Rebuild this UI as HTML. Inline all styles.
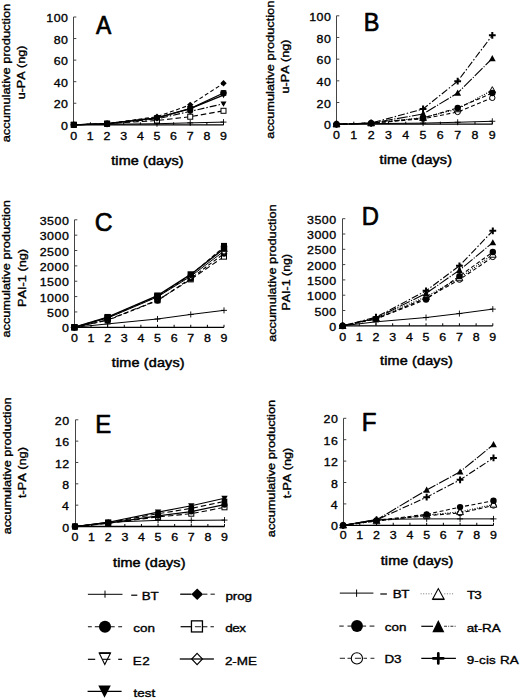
<!DOCTYPE html><html><head><meta charset="utf-8"><style>html,body{margin:0;padding:0;background:#fff}svg{display:block}text{font-family:"Liberation Sans",sans-serif;font-kerning:none}</style></head><body>
<svg width="520" height="699" viewBox="0 0 520 699">
<rect width="520" height="699" fill="#fff"/>
<text transform="translate(10.00,142.37) rotate(-90) scale(1.1487,1)" font-size="11.20" font-weight="normal" stroke="#000" stroke-width="0.35" stroke-linejoin="round">accumulative production</text>
<text transform="translate(25.00,99.34) rotate(-90) scale(1.1235,1)" font-size="11.20" font-weight="normal" stroke="#000" stroke-width="0.35" stroke-linejoin="round">u-PA (ng)</text>
<text transform="translate(274.00,138.67) rotate(-90) scale(1.1436,1)" font-size="11.20" font-weight="normal" stroke="#000" stroke-width="0.35" stroke-linejoin="round">accumulative production</text>
<text transform="translate(289.00,93.44) rotate(-90) scale(1.1235,1)" font-size="11.20" font-weight="normal" stroke="#000" stroke-width="0.35" stroke-linejoin="round">u-PA (ng)</text>
<text transform="translate(10.00,337.57) rotate(-90) scale(1.1386,1)" font-size="11.20" font-weight="normal" stroke="#000" stroke-width="0.35" stroke-linejoin="round">accumulative production</text>
<text transform="translate(26.00,306.97) rotate(-90) scale(1.1381,1)" font-size="11.20" font-weight="normal" stroke="#000" stroke-width="0.35" stroke-linejoin="round">PAI-1 (ng)</text>
<text transform="translate(276.00,341.87) rotate(-90) scale(1.1386,1)" font-size="11.20" font-weight="normal" stroke="#000" stroke-width="0.35" stroke-linejoin="round">accumulative production</text>
<text transform="translate(290.00,310.54) rotate(-90) scale(1.1097,1)" font-size="11.20" font-weight="normal" stroke="#000" stroke-width="0.35" stroke-linejoin="round">PAI-1 (ng)</text>
<text transform="translate(11.00,534.36) rotate(-90) scale(1.1336,1)" font-size="11.20" font-weight="normal" stroke="#000" stroke-width="0.35" stroke-linejoin="round">accumulative production</text>
<text transform="translate(26.00,498.12) rotate(-90) scale(1.1389,1)" font-size="11.20" font-weight="normal" stroke="#000" stroke-width="0.35" stroke-linejoin="round">t-PA (ng)</text>
<text transform="translate(275.00,537.17) rotate(-90) scale(1.1378,1)" font-size="11.20" font-weight="normal" stroke="#000" stroke-width="0.35" stroke-linejoin="round">accumulative production</text>
<text transform="translate(291.00,498.32) rotate(-90) scale(1.1275,1)" font-size="11.20" font-weight="normal" stroke="#000" stroke-width="0.35" stroke-linejoin="round">t-PA (ng)</text>
<text transform="translate(111.21,165.40) scale(1.2000,1)" letter-spacing="0.104" font-size="12.00" font-weight="normal" stroke="#000" stroke-width="0.45" stroke-linejoin="round">time (days)</text>
<text transform="translate(379.51,164.40) scale(1.2000,1)" letter-spacing="0.104" font-size="12.00" font-weight="normal" stroke="#000" stroke-width="0.45" stroke-linejoin="round">time (days)</text>
<text transform="translate(111.81,366.60) scale(1.2000,1)" letter-spacing="0.129" font-size="12.00" font-weight="normal" stroke="#000" stroke-width="0.45" stroke-linejoin="round">time (days)</text>
<text transform="translate(380.01,365.40) scale(1.2000,1)" letter-spacing="0.137" font-size="12.00" font-weight="normal" stroke="#000" stroke-width="0.45" stroke-linejoin="round">time (days)</text>
<text transform="translate(113.01,566.60) scale(1.2000,1)" letter-spacing="0.104" font-size="12.00" font-weight="normal" stroke="#000" stroke-width="0.45" stroke-linejoin="round">time (days)</text>
<text transform="translate(380.71,564.90) scale(1.2000,1)" letter-spacing="0.121" font-size="12.00" font-weight="normal" stroke="#000" stroke-width="0.45" stroke-linejoin="round">time (days)</text>
<text transform="translate(96.01,33.95) scale(0.8811,1)" font-size="26.02" font-weight="normal" stroke="#000" stroke-width="0.70" stroke-linejoin="round">A</text>
<text transform="translate(363.72,30.55) scale(0.9181,1)" font-size="25.58" font-weight="normal" stroke="#000" stroke-width="0.70" stroke-linejoin="round">B</text>
<text transform="translate(94.80,231.40) scale(0.9530,1)" font-size="25.85" font-weight="normal" stroke="#000" stroke-width="0.70" stroke-linejoin="round">C</text>
<text transform="translate(361.80,225.15) scale(0.9306,1)" font-size="25.58" font-weight="normal" stroke="#000" stroke-width="0.70" stroke-linejoin="round">D</text>
<text transform="translate(95.18,432.85) scale(0.9168,1)" font-size="26.16" font-weight="normal" stroke="#000" stroke-width="0.70" stroke-linejoin="round">E</text>
<text transform="translate(361.77,431.25) scale(0.9491,1)" font-size="25.44" font-weight="normal" stroke="#000" stroke-width="0.70" stroke-linejoin="round">F</text>
<path d="M73.50,17.00V124.80" stroke="#444" stroke-width="1"/>
<path d="M73.50,124.80H76.30" stroke="#444" stroke-width="1"/>
<text transform="translate(61.12,129.87) scale(1.1500,1)" letter-spacing="0.428" font-size="10.80" font-weight="normal" stroke="#000" stroke-width="0.32" stroke-linejoin="round">0</text>
<path d="M73.50,103.24H76.30" stroke="#444" stroke-width="1"/>
<text transform="translate(53.72,108.31) scale(1.1500,1)" letter-spacing="0.428" font-size="10.80" font-weight="normal" stroke="#000" stroke-width="0.32" stroke-linejoin="round">20</text>
<path d="M73.50,81.68H76.30" stroke="#444" stroke-width="1"/>
<text transform="translate(53.72,86.75) scale(1.1500,1)" letter-spacing="0.428" font-size="10.80" font-weight="normal" stroke="#000" stroke-width="0.32" stroke-linejoin="round">40</text>
<path d="M73.50,60.12H76.30" stroke="#444" stroke-width="1"/>
<text transform="translate(53.72,65.19) scale(1.1500,1)" letter-spacing="0.428" font-size="10.80" font-weight="normal" stroke="#000" stroke-width="0.32" stroke-linejoin="round">60</text>
<path d="M73.50,38.56H76.30" stroke="#444" stroke-width="1"/>
<text transform="translate(53.72,43.63) scale(1.1500,1)" letter-spacing="0.428" font-size="10.80" font-weight="normal" stroke="#000" stroke-width="0.32" stroke-linejoin="round">80</text>
<path d="M73.50,17.00H76.30" stroke="#444" stroke-width="1"/>
<text transform="translate(46.32,22.07) scale(1.1500,1)" letter-spacing="0.428" font-size="10.80" font-weight="normal" stroke="#000" stroke-width="0.32" stroke-linejoin="round">100</text>
<path d="M73.80,124.80H223.50" stroke="#000" stroke-width="1.3"/>
<path d="M73.80,124.80V122.30" stroke="#000" stroke-width="1"/>
<text transform="translate(70.35,139.90) scale(1.1500,1)" font-size="10.80" font-weight="normal" stroke="#000" stroke-width="0.32" stroke-linejoin="round">0</text>
<path d="M90.43,124.80V122.30" stroke="#000" stroke-width="1"/>
<text transform="translate(86.81,139.90) scale(1.1500,1)" font-size="10.80" font-weight="normal" stroke="#000" stroke-width="0.32" stroke-linejoin="round">1</text>
<path d="M107.07,124.80V122.30" stroke="#000" stroke-width="1"/>
<text transform="translate(103.61,139.90) scale(1.1500,1)" font-size="10.80" font-weight="normal" stroke="#000" stroke-width="0.32" stroke-linejoin="round">2</text>
<path d="M123.70,124.80V122.30" stroke="#000" stroke-width="1"/>
<text transform="translate(120.28,139.90) scale(1.1500,1)" font-size="10.80" font-weight="normal" stroke="#000" stroke-width="0.32" stroke-linejoin="round">3</text>
<path d="M140.33,124.80V122.30" stroke="#000" stroke-width="1"/>
<text transform="translate(136.92,139.90) scale(1.1500,1)" font-size="10.80" font-weight="normal" stroke="#000" stroke-width="0.32" stroke-linejoin="round">4</text>
<path d="M156.97,124.80V122.30" stroke="#000" stroke-width="1"/>
<text transform="translate(153.53,139.90) scale(1.1500,1)" font-size="10.80" font-weight="normal" stroke="#000" stroke-width="0.32" stroke-linejoin="round">5</text>
<path d="M173.60,124.80V122.30" stroke="#000" stroke-width="1"/>
<text transform="translate(170.10,139.90) scale(1.1500,1)" font-size="10.80" font-weight="normal" stroke="#000" stroke-width="0.32" stroke-linejoin="round">6</text>
<path d="M190.23,124.80V122.30" stroke="#000" stroke-width="1"/>
<text transform="translate(186.77,139.90) scale(1.1500,1)" font-size="10.80" font-weight="normal" stroke="#000" stroke-width="0.32" stroke-linejoin="round">7</text>
<path d="M206.87,124.80V122.30" stroke="#000" stroke-width="1"/>
<text transform="translate(203.41,139.90) scale(1.1500,1)" font-size="10.80" font-weight="normal" stroke="#000" stroke-width="0.32" stroke-linejoin="round">8</text>
<path d="M223.50,124.80V122.30" stroke="#000" stroke-width="1"/>
<text transform="translate(220.05,139.90) scale(1.1500,1)" font-size="10.80" font-weight="normal" stroke="#000" stroke-width="0.32" stroke-linejoin="round">9</text>
<path d="M73.80,124.80L107.07,124.26L156.97,123.72L190.23,122.86L223.50,122.10" fill="none" stroke="#000" stroke-width="1.0"/>
<path d="M73.80,124.80L107.07,123.72L156.97,120.49L190.23,116.72L223.50,110.79" fill="none" stroke="#000" stroke-width="1.1" stroke-dasharray="5.5,3"/>
<path d="M73.80,124.80L107.07,123.72L156.97,118.87L190.23,111.32L223.50,103.78" fill="none" stroke="#000" stroke-width="1.1" stroke-dasharray="7,2,1.5,2"/>
<path d="M73.80,124.80L107.07,123.72L156.97,117.79L190.23,108.63L223.50,95.16" fill="none" stroke="#000" stroke-width="1.3"/>
<path d="M73.80,124.80L107.07,123.72L156.97,117.79L190.23,108.63L223.50,93.00" fill="none" stroke="#000" stroke-width="1.3"/>
<path d="M73.80,124.80L107.07,123.72L156.97,116.72L190.23,104.86L223.50,83.30" fill="none" stroke="#000" stroke-width="1.1" stroke-dasharray="4,2.5"/>
<path d="M73.80,121.80V127.80M70.80,124.80H76.80" stroke="#000" stroke-width="0.9"/>
<path d="M107.07,121.26V127.26M104.07,124.26H110.07" stroke="#000" stroke-width="0.9"/>
<path d="M156.97,120.72V126.72M153.97,123.72H159.97" stroke="#000" stroke-width="0.9"/>
<path d="M190.23,119.86V125.86M187.23,122.86H193.23" stroke="#000" stroke-width="0.9"/>
<path d="M223.50,119.10V125.10M220.50,122.10H226.50" stroke="#000" stroke-width="0.9"/>
<rect x="71.30" y="122.30" width="5.00" height="5.00" fill="#fff" stroke="#000" stroke-width="1"/>
<rect x="104.57" y="121.22" width="5.00" height="5.00" fill="#fff" stroke="#000" stroke-width="1"/>
<rect x="154.47" y="117.99" width="5.00" height="5.00" fill="#fff" stroke="#000" stroke-width="1"/>
<rect x="187.73" y="114.22" width="5.00" height="5.00" fill="#fff" stroke="#000" stroke-width="1"/>
<rect x="221.00" y="108.29" width="5.00" height="5.00" fill="#fff" stroke="#000" stroke-width="1"/>
<path d="M70.80,122.40L76.80,122.40L73.80,127.80Z" fill="#000"/>
<path d="M104.07,121.32L110.07,121.32L107.07,126.72Z" fill="#000"/>
<path d="M153.97,116.47L159.97,116.47L156.97,121.87Z" fill="#000"/>
<path d="M187.23,108.92L193.23,108.92L190.23,114.32Z" fill="#000"/>
<path d="M220.50,101.38L226.50,101.38L223.50,106.78Z" fill="#000"/>
<path d="M70.60,122.24L77.00,122.24L73.80,128.00Z" fill="#000"/>
<path d="M103.87,121.16L110.27,121.16L107.07,126.92Z" fill="#000"/>
<path d="M153.77,115.23L160.17,115.23L156.97,120.99Z" fill="#000"/>
<path d="M187.03,106.07L193.43,106.07L190.23,111.83Z" fill="#000"/>
<path d="M220.30,92.59L226.70,92.59L223.50,98.36Z" fill="#000"/>
<circle cx="73.80" cy="124.80" r="3.10" fill="#000"/>
<circle cx="107.07" cy="123.72" r="3.10" fill="#000"/>
<circle cx="156.97" cy="117.79" r="3.10" fill="#000"/>
<circle cx="190.23" cy="108.63" r="3.10" fill="#000"/>
<circle cx="223.50" cy="93.00" r="3.10" fill="#000"/>
<path d="M73.80,121.61L76.99,124.80L73.80,127.99L70.61,124.80Z" fill="#000"/>
<path d="M107.07,120.53L110.26,123.72L107.07,126.91L103.88,123.72Z" fill="#000"/>
<path d="M156.97,113.53L160.16,116.72L156.97,119.91L153.78,116.72Z" fill="#000"/>
<path d="M190.23,101.67L193.42,104.86L190.23,108.05L187.04,104.86Z" fill="#000"/>
<path d="M223.50,80.11L226.69,83.30L223.50,86.49L220.31,83.30Z" fill="#000"/>
<rect x="70.80" y="121.80" width="6.00" height="6.00" fill="#000"/>
<rect x="104.07" y="120.72" width="6.00" height="6.00" fill="#000"/>
<rect x="220.70" y="90.20" width="5.60" height="5.60" fill="#000"/>
<circle cx="190.23" cy="110.79" r="3.00" fill="#000"/>
<path d="M336.50,15.80V124.20" stroke="#444" stroke-width="1"/>
<path d="M336.50,124.20H339.30" stroke="#444" stroke-width="1"/>
<text transform="translate(324.02,129.27) scale(1.1500,1)" letter-spacing="0.428" font-size="10.80" font-weight="normal" stroke="#000" stroke-width="0.32" stroke-linejoin="round">0</text>
<path d="M336.50,102.52H339.30" stroke="#444" stroke-width="1"/>
<text transform="translate(316.62,107.59) scale(1.1500,1)" letter-spacing="0.428" font-size="10.80" font-weight="normal" stroke="#000" stroke-width="0.32" stroke-linejoin="round">20</text>
<path d="M336.50,80.84H339.30" stroke="#444" stroke-width="1"/>
<text transform="translate(316.62,85.91) scale(1.1500,1)" letter-spacing="0.428" font-size="10.80" font-weight="normal" stroke="#000" stroke-width="0.32" stroke-linejoin="round">40</text>
<path d="M336.50,59.16H339.30" stroke="#444" stroke-width="1"/>
<text transform="translate(316.62,64.23) scale(1.1500,1)" letter-spacing="0.428" font-size="10.80" font-weight="normal" stroke="#000" stroke-width="0.32" stroke-linejoin="round">60</text>
<path d="M336.50,37.48H339.30" stroke="#444" stroke-width="1"/>
<text transform="translate(316.62,42.55) scale(1.1500,1)" letter-spacing="0.428" font-size="10.80" font-weight="normal" stroke="#000" stroke-width="0.32" stroke-linejoin="round">80</text>
<path d="M336.50,15.80H339.30" stroke="#444" stroke-width="1"/>
<text transform="translate(309.22,20.87) scale(1.1500,1)" letter-spacing="0.428" font-size="10.80" font-weight="normal" stroke="#000" stroke-width="0.32" stroke-linejoin="round">100</text>
<path d="M336.50,124.20H492.30" stroke="#000" stroke-width="1.3"/>
<path d="M336.50,124.20V121.70" stroke="#000" stroke-width="1"/>
<text transform="translate(333.05,138.90) scale(1.1500,1)" font-size="10.80" font-weight="normal" stroke="#000" stroke-width="0.32" stroke-linejoin="round">0</text>
<path d="M353.81,124.20V121.70" stroke="#000" stroke-width="1"/>
<text transform="translate(350.19,138.90) scale(1.1500,1)" font-size="10.80" font-weight="normal" stroke="#000" stroke-width="0.32" stroke-linejoin="round">1</text>
<path d="M371.12,124.20V121.70" stroke="#000" stroke-width="1"/>
<text transform="translate(367.67,138.90) scale(1.1500,1)" font-size="10.80" font-weight="normal" stroke="#000" stroke-width="0.32" stroke-linejoin="round">2</text>
<path d="M388.43,124.20V121.70" stroke="#000" stroke-width="1"/>
<text transform="translate(385.02,138.90) scale(1.1500,1)" font-size="10.80" font-weight="normal" stroke="#000" stroke-width="0.32" stroke-linejoin="round">3</text>
<path d="M405.74,124.20V121.70" stroke="#000" stroke-width="1"/>
<text transform="translate(402.33,138.90) scale(1.1500,1)" font-size="10.80" font-weight="normal" stroke="#000" stroke-width="0.32" stroke-linejoin="round">4</text>
<path d="M423.06,124.20V121.70" stroke="#000" stroke-width="1"/>
<text transform="translate(419.61,138.90) scale(1.1500,1)" font-size="10.80" font-weight="normal" stroke="#000" stroke-width="0.32" stroke-linejoin="round">5</text>
<path d="M440.37,124.20V121.70" stroke="#000" stroke-width="1"/>
<text transform="translate(436.87,138.90) scale(1.1500,1)" font-size="10.80" font-weight="normal" stroke="#000" stroke-width="0.32" stroke-linejoin="round">6</text>
<path d="M457.68,124.20V121.70" stroke="#000" stroke-width="1"/>
<text transform="translate(454.22,138.90) scale(1.1500,1)" font-size="10.80" font-weight="normal" stroke="#000" stroke-width="0.32" stroke-linejoin="round">7</text>
<path d="M474.99,124.20V121.70" stroke="#000" stroke-width="1"/>
<text transform="translate(471.54,138.90) scale(1.1500,1)" font-size="10.80" font-weight="normal" stroke="#000" stroke-width="0.32" stroke-linejoin="round">8</text>
<path d="M492.30,124.20V121.70" stroke="#000" stroke-width="1"/>
<text transform="translate(488.85,138.90) scale(1.1500,1)" font-size="10.80" font-weight="normal" stroke="#000" stroke-width="0.32" stroke-linejoin="round">9</text>
<path d="M336.50,124.20L371.12,123.66L423.06,123.12L457.68,122.25L492.30,121.27" fill="none" stroke="#000" stroke-width="1.0"/>
<path d="M336.50,124.20L371.12,123.12L423.06,118.78L457.68,111.95L492.30,97.86" fill="none" stroke="#000" stroke-width="1.1" stroke-dasharray="4,2.5"/>
<path d="M336.50,124.20L371.12,123.12L423.06,117.70L457.68,109.02L492.30,90.05" fill="none" stroke="#000" stroke-width="1.1" stroke-dasharray="1,1.5"/>
<path d="M336.50,124.20L371.12,123.12L423.06,118.02L457.68,107.94L492.30,92.98" fill="none" stroke="#000" stroke-width="1.1" stroke-dasharray="4,2.5"/>
<path d="M336.50,124.20L371.12,123.12L423.06,114.01L457.68,92.98L492.30,58.51" fill="none" stroke="#000" stroke-width="1.1" stroke-dasharray="11,1.5,1.2,1.5"/>
<path d="M336.50,124.20L371.12,123.12L423.06,109.02L457.68,81.17L492.30,35.31" fill="none" stroke="#000" stroke-width="1.1" stroke-dasharray="7,2,1.5,2"/>
<path d="M336.50,121.20V127.20M333.50,124.20H339.50" stroke="#000" stroke-width="0.9"/>
<path d="M371.12,120.66V126.66M368.12,123.66H374.12" stroke="#000" stroke-width="0.9"/>
<path d="M423.06,120.12V126.12M420.06,123.12H426.06" stroke="#000" stroke-width="0.9"/>
<path d="M457.68,119.25V125.25M454.68,122.25H460.68" stroke="#000" stroke-width="0.9"/>
<path d="M492.30,118.27V124.27M489.30,121.27H495.30" stroke="#000" stroke-width="0.9"/>
<circle cx="336.50" cy="124.20" r="2.70" fill="#fff" stroke="#000" stroke-width="1"/>
<circle cx="371.12" cy="123.12" r="2.70" fill="#fff" stroke="#000" stroke-width="1"/>
<circle cx="423.06" cy="118.78" r="2.70" fill="#fff" stroke="#000" stroke-width="1"/>
<circle cx="457.68" cy="111.95" r="2.70" fill="#fff" stroke="#000" stroke-width="1"/>
<circle cx="492.30" cy="97.86" r="2.70" fill="#fff" stroke="#000" stroke-width="1"/>
<path d="M333.10,126.92L339.90,126.92L336.50,120.80Z" fill="#fff" stroke="#000" stroke-width="1"/>
<path d="M367.72,125.84L374.52,125.84L371.12,119.72Z" fill="#fff" stroke="#000" stroke-width="1"/>
<path d="M419.66,120.42L426.46,120.42L423.06,114.30Z" fill="#fff" stroke="#000" stroke-width="1"/>
<path d="M454.28,111.74L461.08,111.74L457.68,105.62Z" fill="#fff" stroke="#000" stroke-width="1"/>
<path d="M488.90,92.77L495.70,92.77L492.30,86.65Z" fill="#fff" stroke="#000" stroke-width="1"/>
<circle cx="336.50" cy="124.20" r="3.20" fill="#000"/>
<circle cx="371.12" cy="123.12" r="3.20" fill="#000"/>
<circle cx="423.06" cy="118.02" r="3.20" fill="#000"/>
<circle cx="457.68" cy="107.94" r="3.20" fill="#000"/>
<circle cx="492.30" cy="92.98" r="3.20" fill="#000"/>
<path d="M333.10,126.92L339.90,126.92L336.50,120.80Z" fill="#000"/>
<path d="M367.72,125.84L374.52,125.84L371.12,119.72Z" fill="#000"/>
<path d="M419.66,116.73L426.46,116.73L423.06,110.61Z" fill="#000"/>
<path d="M454.28,95.70L461.08,95.70L457.68,89.58Z" fill="#000"/>
<path d="M488.90,61.23L495.70,61.23L492.30,55.11Z" fill="#000"/>
<path d="M333.10,124.20H339.90M336.50,120.80V127.60" stroke="#000" stroke-width="2"/>
<path d="M367.72,123.12H374.52M371.12,119.72V126.52" stroke="#000" stroke-width="2"/>
<path d="M419.66,109.02H426.46M423.06,105.62V112.42" stroke="#000" stroke-width="2"/>
<path d="M454.28,81.17H461.08M457.68,77.77V84.57" stroke="#000" stroke-width="2"/>
<path d="M488.90,35.31H495.70M492.30,31.91V38.71" stroke="#000" stroke-width="2"/>
<path d="M74.50,219.80V327.30" stroke="#444" stroke-width="1"/>
<path d="M74.50,327.30H77.30" stroke="#444" stroke-width="1"/>
<text transform="translate(61.92,332.37) scale(1.1500,1)" letter-spacing="0.428" font-size="10.80" font-weight="normal" stroke="#000" stroke-width="0.32" stroke-linejoin="round">0</text>
<path d="M74.50,311.94H77.30" stroke="#444" stroke-width="1"/>
<text transform="translate(47.12,317.01) scale(1.1500,1)" letter-spacing="0.428" font-size="10.80" font-weight="normal" stroke="#000" stroke-width="0.32" stroke-linejoin="round">500</text>
<path d="M74.50,296.59H77.30" stroke="#444" stroke-width="1"/>
<text transform="translate(39.72,301.66) scale(1.1500,1)" letter-spacing="0.428" font-size="10.80" font-weight="normal" stroke="#000" stroke-width="0.32" stroke-linejoin="round">1000</text>
<path d="M74.50,281.23H77.30" stroke="#444" stroke-width="1"/>
<text transform="translate(39.72,286.30) scale(1.1500,1)" letter-spacing="0.428" font-size="10.80" font-weight="normal" stroke="#000" stroke-width="0.32" stroke-linejoin="round">1500</text>
<path d="M74.50,265.87H77.30" stroke="#444" stroke-width="1"/>
<text transform="translate(39.72,270.94) scale(1.1500,1)" letter-spacing="0.428" font-size="10.80" font-weight="normal" stroke="#000" stroke-width="0.32" stroke-linejoin="round">2000</text>
<path d="M74.50,250.51H77.30" stroke="#444" stroke-width="1"/>
<text transform="translate(39.72,255.58) scale(1.1500,1)" letter-spacing="0.428" font-size="10.80" font-weight="normal" stroke="#000" stroke-width="0.32" stroke-linejoin="round">2500</text>
<path d="M74.50,235.16H77.30" stroke="#444" stroke-width="1"/>
<text transform="translate(39.72,240.23) scale(1.1500,1)" letter-spacing="0.428" font-size="10.80" font-weight="normal" stroke="#000" stroke-width="0.32" stroke-linejoin="round">3000</text>
<path d="M74.50,219.80H77.30" stroke="#444" stroke-width="1"/>
<text transform="translate(39.72,224.87) scale(1.1500,1)" letter-spacing="0.428" font-size="10.80" font-weight="normal" stroke="#000" stroke-width="0.32" stroke-linejoin="round">3500</text>
<path d="M74.40,327.30H224.00" stroke="#000" stroke-width="1.3"/>
<path d="M74.40,327.30V324.80" stroke="#000" stroke-width="1"/>
<text transform="translate(70.95,341.90) scale(1.1500,1)" font-size="10.80" font-weight="normal" stroke="#000" stroke-width="0.32" stroke-linejoin="round">0</text>
<path d="M91.02,327.30V324.80" stroke="#000" stroke-width="1"/>
<text transform="translate(87.40,341.90) scale(1.1500,1)" font-size="10.80" font-weight="normal" stroke="#000" stroke-width="0.32" stroke-linejoin="round">1</text>
<path d="M107.64,327.30V324.80" stroke="#000" stroke-width="1"/>
<text transform="translate(104.19,341.90) scale(1.1500,1)" font-size="10.80" font-weight="normal" stroke="#000" stroke-width="0.32" stroke-linejoin="round">2</text>
<path d="M124.27,327.30V324.80" stroke="#000" stroke-width="1"/>
<text transform="translate(120.85,341.90) scale(1.1500,1)" font-size="10.80" font-weight="normal" stroke="#000" stroke-width="0.32" stroke-linejoin="round">3</text>
<path d="M140.89,327.30V324.80" stroke="#000" stroke-width="1"/>
<text transform="translate(137.47,341.90) scale(1.1500,1)" font-size="10.80" font-weight="normal" stroke="#000" stroke-width="0.32" stroke-linejoin="round">4</text>
<path d="M157.51,327.30V324.80" stroke="#000" stroke-width="1"/>
<text transform="translate(154.07,341.90) scale(1.1500,1)" font-size="10.80" font-weight="normal" stroke="#000" stroke-width="0.32" stroke-linejoin="round">5</text>
<path d="M174.13,327.30V324.80" stroke="#000" stroke-width="1"/>
<text transform="translate(170.64,341.90) scale(1.1500,1)" font-size="10.80" font-weight="normal" stroke="#000" stroke-width="0.32" stroke-linejoin="round">6</text>
<path d="M190.76,327.30V324.80" stroke="#000" stroke-width="1"/>
<text transform="translate(187.30,341.90) scale(1.1500,1)" font-size="10.80" font-weight="normal" stroke="#000" stroke-width="0.32" stroke-linejoin="round">7</text>
<path d="M207.38,327.30V324.80" stroke="#000" stroke-width="1"/>
<text transform="translate(203.92,341.90) scale(1.1500,1)" font-size="10.80" font-weight="normal" stroke="#000" stroke-width="0.32" stroke-linejoin="round">8</text>
<path d="M224.00,327.30V324.80" stroke="#000" stroke-width="1"/>
<text transform="translate(220.55,341.90) scale(1.1500,1)" font-size="10.80" font-weight="normal" stroke="#000" stroke-width="0.32" stroke-linejoin="round">9</text>
<path d="M74.40,327.30L107.64,323.92L157.51,318.98L190.76,314.46L224.00,310.35" fill="none" stroke="#000" stroke-width="1.0"/>
<path d="M74.40,327.30L107.64,319.93L157.51,300.27L190.76,279.39L224.00,256.66" fill="none" stroke="#000" stroke-width="1.1" stroke-dasharray="5.5,3"/>
<path d="M74.40,327.30L107.64,320.24L157.51,300.58L190.76,278.46L224.00,253.59" fill="none" stroke="#000" stroke-width="1.1" stroke-dasharray="4,2.5"/>
<path d="M74.40,327.30L107.64,318.09L157.51,296.89L190.76,276.31L224.00,251.13" fill="none" stroke="#000" stroke-width="1.0"/>
<path d="M74.40,327.30L107.64,317.16L157.51,295.66L190.76,274.47L224.00,248.67" fill="none" stroke="#000" stroke-width="1.5"/>
<path d="M74.40,327.30L107.64,317.47L157.51,296.28L190.76,275.09L224.00,246.83" fill="none" stroke="#000" stroke-width="1.1" stroke-dasharray="4,2.5"/>
<path d="M74.40,324.30V330.30M71.40,327.30H77.40" stroke="#000" stroke-width="0.9"/>
<path d="M107.64,320.92V326.92M104.64,323.92H110.64" stroke="#000" stroke-width="0.9"/>
<path d="M157.51,315.98V321.98M154.51,318.98H160.51" stroke="#000" stroke-width="0.9"/>
<path d="M190.76,311.46V317.46M187.76,314.46H193.76" stroke="#000" stroke-width="0.9"/>
<path d="M224.00,307.35V313.35M221.00,310.35H227.00" stroke="#000" stroke-width="0.9"/>
<rect x="71.90" y="324.80" width="5.00" height="5.00" fill="#fff" stroke="#000" stroke-width="1"/>
<rect x="105.14" y="317.43" width="5.00" height="5.00" fill="#fff" stroke="#000" stroke-width="1"/>
<rect x="155.01" y="297.77" width="5.00" height="5.00" fill="#fff" stroke="#000" stroke-width="1"/>
<rect x="188.26" y="276.89" width="5.00" height="5.00" fill="#fff" stroke="#000" stroke-width="1"/>
<rect x="221.50" y="254.16" width="5.00" height="5.00" fill="#fff" stroke="#000" stroke-width="1"/>
<circle cx="74.40" cy="327.30" r="3.20" fill="#000"/>
<circle cx="107.64" cy="320.24" r="3.20" fill="#000"/>
<circle cx="157.51" cy="300.58" r="3.20" fill="#000"/>
<circle cx="190.76" cy="278.46" r="3.20" fill="#000"/>
<circle cx="224.00" cy="253.59" r="3.20" fill="#000"/>
<path d="M74.40,324.00L77.70,327.30L74.40,330.60L71.10,327.30Z" fill="#fff" stroke="#000" stroke-width="1"/>
<path d="M107.64,314.79L110.94,318.09L107.64,321.39L104.34,318.09Z" fill="#fff" stroke="#000" stroke-width="1"/>
<path d="M157.51,293.59L160.81,296.89L157.51,300.19L154.21,296.89Z" fill="#fff" stroke="#000" stroke-width="1"/>
<path d="M190.76,273.01L194.06,276.31L190.76,279.61L187.46,276.31Z" fill="#fff" stroke="#000" stroke-width="1"/>
<path d="M224.00,247.83L227.30,251.13L224.00,254.43L220.70,251.13Z" fill="#fff" stroke="#000" stroke-width="1"/>
<rect x="71.20" y="324.10" width="6.40" height="6.40" fill="#000"/>
<rect x="104.44" y="313.96" width="6.40" height="6.40" fill="#000"/>
<rect x="154.31" y="292.46" width="6.40" height="6.40" fill="#000"/>
<rect x="187.56" y="271.27" width="6.40" height="6.40" fill="#000"/>
<rect x="220.80" y="245.47" width="6.40" height="6.40" fill="#000"/>
<path d="M74.40,324.00L77.70,327.30L74.40,330.60L71.10,327.30Z" fill="#000"/>
<path d="M107.64,314.17L110.94,317.47L107.64,320.77L104.34,317.47Z" fill="#000"/>
<path d="M157.51,292.98L160.81,296.28L157.51,299.58L154.21,296.28Z" fill="#000"/>
<path d="M190.76,271.79L194.06,275.09L190.76,278.39L187.46,275.09Z" fill="#000"/>
<path d="M224.00,243.53L227.30,246.83L224.00,250.13L220.70,246.83Z" fill="#000"/>
<rect x="71.40" y="324.30" width="6.00" height="6.00" fill="#000"/>
<rect x="104.34" y="314.79" width="6.60" height="6.60" fill="#000"/>
<rect x="154.11" y="293.19" width="6.80" height="6.80" fill="#000"/>
<rect x="221.00" y="242.91" width="6.00" height="6.00" fill="#000"/>
<path d="M342.50,218.70V325.80" stroke="#444" stroke-width="1"/>
<path d="M342.50,325.80H345.30" stroke="#444" stroke-width="1"/>
<text transform="translate(329.22,330.87) scale(1.1500,1)" letter-spacing="0.428" font-size="10.80" font-weight="normal" stroke="#000" stroke-width="0.32" stroke-linejoin="round">0</text>
<path d="M342.50,310.50H345.30" stroke="#444" stroke-width="1"/>
<text transform="translate(314.42,315.57) scale(1.1500,1)" letter-spacing="0.428" font-size="10.80" font-weight="normal" stroke="#000" stroke-width="0.32" stroke-linejoin="round">500</text>
<path d="M342.50,295.20H345.30" stroke="#444" stroke-width="1"/>
<text transform="translate(307.02,300.27) scale(1.1500,1)" letter-spacing="0.428" font-size="10.80" font-weight="normal" stroke="#000" stroke-width="0.32" stroke-linejoin="round">1000</text>
<path d="M342.50,279.90H345.30" stroke="#444" stroke-width="1"/>
<text transform="translate(307.02,284.97) scale(1.1500,1)" letter-spacing="0.428" font-size="10.80" font-weight="normal" stroke="#000" stroke-width="0.32" stroke-linejoin="round">1500</text>
<path d="M342.50,264.60H345.30" stroke="#444" stroke-width="1"/>
<text transform="translate(307.02,269.67) scale(1.1500,1)" letter-spacing="0.428" font-size="10.80" font-weight="normal" stroke="#000" stroke-width="0.32" stroke-linejoin="round">2000</text>
<path d="M342.50,249.30H345.30" stroke="#444" stroke-width="1"/>
<text transform="translate(307.02,254.37) scale(1.1500,1)" letter-spacing="0.428" font-size="10.80" font-weight="normal" stroke="#000" stroke-width="0.32" stroke-linejoin="round">2500</text>
<path d="M342.50,234.00H345.30" stroke="#444" stroke-width="1"/>
<text transform="translate(307.02,239.07) scale(1.1500,1)" letter-spacing="0.428" font-size="10.80" font-weight="normal" stroke="#000" stroke-width="0.32" stroke-linejoin="round">3000</text>
<path d="M342.50,218.70H345.30" stroke="#444" stroke-width="1"/>
<text transform="translate(307.02,223.77) scale(1.1500,1)" letter-spacing="0.428" font-size="10.80" font-weight="normal" stroke="#000" stroke-width="0.32" stroke-linejoin="round">3500</text>
<path d="M342.60,325.80H492.80" stroke="#000" stroke-width="1.3"/>
<path d="M342.60,325.80V323.30" stroke="#000" stroke-width="1"/>
<text transform="translate(339.15,340.50) scale(1.1500,1)" font-size="10.80" font-weight="normal" stroke="#000" stroke-width="0.32" stroke-linejoin="round">0</text>
<path d="M359.29,325.80V323.30" stroke="#000" stroke-width="1"/>
<text transform="translate(355.67,340.50) scale(1.1500,1)" font-size="10.80" font-weight="normal" stroke="#000" stroke-width="0.32" stroke-linejoin="round">1</text>
<path d="M375.98,325.80V323.30" stroke="#000" stroke-width="1"/>
<text transform="translate(372.52,340.50) scale(1.1500,1)" font-size="10.80" font-weight="normal" stroke="#000" stroke-width="0.32" stroke-linejoin="round">2</text>
<path d="M392.67,325.80V323.30" stroke="#000" stroke-width="1"/>
<text transform="translate(389.25,340.50) scale(1.1500,1)" font-size="10.80" font-weight="normal" stroke="#000" stroke-width="0.32" stroke-linejoin="round">3</text>
<path d="M409.36,325.80V323.30" stroke="#000" stroke-width="1"/>
<text transform="translate(405.94,340.50) scale(1.1500,1)" font-size="10.80" font-weight="normal" stroke="#000" stroke-width="0.32" stroke-linejoin="round">4</text>
<path d="M426.04,325.80V323.30" stroke="#000" stroke-width="1"/>
<text transform="translate(422.60,340.50) scale(1.1500,1)" font-size="10.80" font-weight="normal" stroke="#000" stroke-width="0.32" stroke-linejoin="round">5</text>
<path d="M442.73,325.80V323.30" stroke="#000" stroke-width="1"/>
<text transform="translate(439.24,340.50) scale(1.1500,1)" font-size="10.80" font-weight="normal" stroke="#000" stroke-width="0.32" stroke-linejoin="round">6</text>
<path d="M459.42,325.80V323.30" stroke="#000" stroke-width="1"/>
<text transform="translate(455.96,340.50) scale(1.1500,1)" font-size="10.80" font-weight="normal" stroke="#000" stroke-width="0.32" stroke-linejoin="round">7</text>
<path d="M476.11,325.80V323.30" stroke="#000" stroke-width="1"/>
<text transform="translate(472.66,340.50) scale(1.1500,1)" font-size="10.80" font-weight="normal" stroke="#000" stroke-width="0.32" stroke-linejoin="round">8</text>
<path d="M492.80,325.80V323.30" stroke="#000" stroke-width="1"/>
<text transform="translate(489.35,340.50) scale(1.1500,1)" font-size="10.80" font-weight="normal" stroke="#000" stroke-width="0.32" stroke-linejoin="round">9</text>
<path d="M342.60,325.80L375.98,321.82L426.04,317.54L459.42,313.56L492.80,309.12" fill="none" stroke="#000" stroke-width="1.0"/>
<path d="M342.60,325.80L375.98,318.76L426.04,298.26L459.42,279.66L492.80,256.95" fill="none" stroke="#000" stroke-width="1.1" stroke-dasharray="4,2.5"/>
<path d="M342.60,325.80L375.98,318.46L426.04,296.73L459.42,278.06L492.80,254.50" fill="none" stroke="#000" stroke-width="1.1" stroke-dasharray="1,1.5"/>
<path d="M342.60,325.80L375.98,318.92L426.04,299.48L459.42,276.17L492.80,252.05" fill="none" stroke="#000" stroke-width="1.1" stroke-dasharray="4,2.5"/>
<path d="M342.60,325.80L375.98,318.15L426.04,293.39L459.42,270.20L492.80,242.57" fill="none" stroke="#000" stroke-width="1.1" stroke-dasharray="11,1.5,1.2,1.5"/>
<path d="M342.60,325.80L375.98,317.23L426.04,290.82L459.42,265.79L492.80,230.82" fill="none" stroke="#000" stroke-width="1.1" stroke-dasharray="7,2,1.5,2"/>
<path d="M342.60,322.80V328.80M339.60,325.80H345.60" stroke="#000" stroke-width="0.9"/>
<path d="M375.98,318.82V324.82M372.98,321.82H378.98" stroke="#000" stroke-width="0.9"/>
<path d="M426.04,314.54V320.54M423.04,317.54H429.04" stroke="#000" stroke-width="0.9"/>
<path d="M459.42,310.56V316.56M456.42,313.56H462.42" stroke="#000" stroke-width="0.9"/>
<path d="M492.80,306.12V312.12M489.80,309.12H495.80" stroke="#000" stroke-width="0.9"/>
<circle cx="342.60" cy="325.80" r="2.70" fill="#fff" stroke="#000" stroke-width="1"/>
<circle cx="375.98" cy="318.76" r="2.70" fill="#fff" stroke="#000" stroke-width="1"/>
<circle cx="426.04" cy="298.26" r="2.70" fill="#fff" stroke="#000" stroke-width="1"/>
<circle cx="459.42" cy="279.66" r="2.70" fill="#fff" stroke="#000" stroke-width="1"/>
<circle cx="492.80" cy="256.95" r="2.70" fill="#fff" stroke="#000" stroke-width="1"/>
<path d="M339.20,328.52L346.00,328.52L342.60,322.40Z" fill="#fff" stroke="#000" stroke-width="1"/>
<path d="M372.58,321.18L379.38,321.18L375.98,315.06Z" fill="#fff" stroke="#000" stroke-width="1"/>
<path d="M422.64,299.45L429.44,299.45L426.04,293.33Z" fill="#fff" stroke="#000" stroke-width="1"/>
<path d="M456.02,280.78L462.82,280.78L459.42,274.66Z" fill="#fff" stroke="#000" stroke-width="1"/>
<path d="M489.40,257.22L496.20,257.22L492.80,251.10Z" fill="#fff" stroke="#000" stroke-width="1"/>
<circle cx="342.60" cy="325.80" r="3.20" fill="#000"/>
<circle cx="375.98" cy="318.92" r="3.20" fill="#000"/>
<circle cx="426.04" cy="299.48" r="3.20" fill="#000"/>
<circle cx="459.42" cy="276.17" r="3.20" fill="#000"/>
<circle cx="492.80" cy="252.05" r="3.20" fill="#000"/>
<path d="M339.20,328.52L346.00,328.52L342.60,322.40Z" fill="#000"/>
<path d="M372.58,320.87L379.38,320.87L375.98,314.75Z" fill="#000"/>
<path d="M422.64,296.11L429.44,296.11L426.04,289.99Z" fill="#000"/>
<path d="M456.02,272.92L462.82,272.92L459.42,266.80Z" fill="#000"/>
<path d="M489.40,245.29L496.20,245.29L492.80,239.17Z" fill="#000"/>
<path d="M339.20,325.80H346.00M342.60,322.40V329.20" stroke="#000" stroke-width="2"/>
<path d="M372.58,317.23H379.38M375.98,313.83V320.63" stroke="#000" stroke-width="2"/>
<path d="M422.64,290.82H429.44M426.04,287.42V294.22" stroke="#000" stroke-width="2"/>
<path d="M456.02,265.79H462.82M459.42,262.39V269.19" stroke="#000" stroke-width="2"/>
<path d="M489.40,230.82H496.20M492.80,227.42V234.22" stroke="#000" stroke-width="2"/>
<path d="M75.50,419.80V526.50" stroke="#444" stroke-width="1"/>
<path d="M75.50,526.50H78.30" stroke="#444" stroke-width="1"/>
<text transform="translate(62.22,531.57) scale(1.1500,1)" letter-spacing="0.428" font-size="10.80" font-weight="normal" stroke="#000" stroke-width="0.32" stroke-linejoin="round">0</text>
<path d="M75.50,505.16H78.30" stroke="#444" stroke-width="1"/>
<text transform="translate(62.10,510.18) scale(1.1500,1)" letter-spacing="0.428" font-size="10.80" font-weight="normal" stroke="#000" stroke-width="0.32" stroke-linejoin="round">4</text>
<path d="M75.50,483.82H78.30" stroke="#444" stroke-width="1"/>
<text transform="translate(62.27,488.89) scale(1.1500,1)" letter-spacing="0.428" font-size="10.80" font-weight="normal" stroke="#000" stroke-width="0.32" stroke-linejoin="round">8</text>
<path d="M75.50,462.48H78.30" stroke="#444" stroke-width="1"/>
<text transform="translate(54.96,467.55) scale(1.1500,1)" letter-spacing="0.428" font-size="10.80" font-weight="normal" stroke="#000" stroke-width="0.32" stroke-linejoin="round">12</text>
<path d="M75.50,441.14H78.30" stroke="#444" stroke-width="1"/>
<text transform="translate(54.88,446.21) scale(1.1500,1)" letter-spacing="0.428" font-size="10.80" font-weight="normal" stroke="#000" stroke-width="0.32" stroke-linejoin="round">16</text>
<path d="M75.50,419.80H78.30" stroke="#444" stroke-width="1"/>
<text transform="translate(54.82,424.87) scale(1.1500,1)" letter-spacing="0.428" font-size="10.80" font-weight="normal" stroke="#000" stroke-width="0.32" stroke-linejoin="round">20</text>
<path d="M75.00,526.50H224.50" stroke="#000" stroke-width="1.3"/>
<path d="M75.00,526.50V524.00" stroke="#000" stroke-width="1"/>
<text transform="translate(71.55,541.40) scale(1.1500,1)" font-size="10.80" font-weight="normal" stroke="#000" stroke-width="0.32" stroke-linejoin="round">0</text>
<path d="M91.61,526.50V524.00" stroke="#000" stroke-width="1"/>
<text transform="translate(87.99,541.40) scale(1.1500,1)" font-size="10.80" font-weight="normal" stroke="#000" stroke-width="0.32" stroke-linejoin="round">1</text>
<path d="M108.22,526.50V524.00" stroke="#000" stroke-width="1"/>
<text transform="translate(104.77,541.40) scale(1.1500,1)" font-size="10.80" font-weight="normal" stroke="#000" stroke-width="0.32" stroke-linejoin="round">2</text>
<path d="M124.83,526.50V524.00" stroke="#000" stroke-width="1"/>
<text transform="translate(121.42,541.40) scale(1.1500,1)" font-size="10.80" font-weight="normal" stroke="#000" stroke-width="0.32" stroke-linejoin="round">3</text>
<path d="M141.44,526.50V524.00" stroke="#000" stroke-width="1"/>
<text transform="translate(138.03,541.40) scale(1.1500,1)" font-size="10.80" font-weight="normal" stroke="#000" stroke-width="0.32" stroke-linejoin="round">4</text>
<path d="M158.06,526.50V524.00" stroke="#000" stroke-width="1"/>
<text transform="translate(154.61,541.40) scale(1.1500,1)" font-size="10.80" font-weight="normal" stroke="#000" stroke-width="0.32" stroke-linejoin="round">5</text>
<path d="M174.67,526.50V524.00" stroke="#000" stroke-width="1"/>
<text transform="translate(171.17,541.40) scale(1.1500,1)" font-size="10.80" font-weight="normal" stroke="#000" stroke-width="0.32" stroke-linejoin="round">6</text>
<path d="M191.28,526.50V524.00" stroke="#000" stroke-width="1"/>
<text transform="translate(187.82,541.40) scale(1.1500,1)" font-size="10.80" font-weight="normal" stroke="#000" stroke-width="0.32" stroke-linejoin="round">7</text>
<path d="M207.89,526.50V524.00" stroke="#000" stroke-width="1"/>
<text transform="translate(204.44,541.40) scale(1.1500,1)" font-size="10.80" font-weight="normal" stroke="#000" stroke-width="0.32" stroke-linejoin="round">8</text>
<path d="M224.50,526.50V524.00" stroke="#000" stroke-width="1"/>
<text transform="translate(221.05,541.40) scale(1.1500,1)" font-size="10.80" font-weight="normal" stroke="#000" stroke-width="0.32" stroke-linejoin="round">9</text>
<path d="M75.00,526.50L108.22,522.23L158.06,520.36L191.28,520.36L224.50,520.10" fill="none" stroke="#000" stroke-width="1.0"/>
<path d="M75.00,526.50L108.22,523.30L158.06,516.90L191.28,513.70L224.50,507.29" fill="none" stroke="#000" stroke-width="1.1" stroke-dasharray="5.5,3"/>
<path d="M75.00,526.50L108.22,523.03L158.06,515.83L191.28,511.56L224.50,504.63" fill="none" stroke="#000" stroke-width="1.2"/>
<path d="M75.00,526.50L108.22,522.77L158.06,513.70L191.28,508.36L224.50,501.43" fill="none" stroke="#000" stroke-width="1.1" stroke-dasharray="5.5,3"/>
<path d="M75.00,526.50L108.22,522.23L158.06,512.10L191.28,505.69L224.50,498.22" fill="none" stroke="#000" stroke-width="1.1"/>
<path d="M75.00,523.50V529.50M72.00,526.50H78.00" stroke="#000" stroke-width="0.9"/>
<path d="M108.22,519.23V525.23M105.22,522.23H111.22" stroke="#000" stroke-width="0.9"/>
<path d="M158.06,517.36V523.36M155.06,520.36H161.06" stroke="#000" stroke-width="0.9"/>
<path d="M191.28,517.36V523.36M188.28,520.36H194.28" stroke="#000" stroke-width="0.9"/>
<path d="M224.50,517.10V523.10M221.50,520.10H227.50" stroke="#000" stroke-width="0.9"/>
<rect x="72.50" y="524.00" width="5.00" height="5.00" fill="#fff" stroke="#000" stroke-width="1"/>
<rect x="105.72" y="520.80" width="5.00" height="5.00" fill="#fff" stroke="#000" stroke-width="1"/>
<rect x="155.56" y="514.40" width="5.00" height="5.00" fill="#fff" stroke="#000" stroke-width="1"/>
<rect x="188.78" y="511.20" width="5.00" height="5.00" fill="#fff" stroke="#000" stroke-width="1"/>
<rect x="222.00" y="504.79" width="5.00" height="5.00" fill="#fff" stroke="#000" stroke-width="1"/>
<circle cx="75.00" cy="526.50" r="3.00" fill="#000"/>
<circle cx="108.22" cy="523.03" r="3.00" fill="#000"/>
<circle cx="158.06" cy="515.83" r="3.00" fill="#000"/>
<circle cx="191.28" cy="511.56" r="3.00" fill="#000"/>
<circle cx="224.50" cy="504.63" r="3.00" fill="#000"/>
<rect x="72.20" y="523.70" width="5.60" height="5.60" fill="#000"/>
<rect x="105.42" y="519.97" width="5.60" height="5.60" fill="#000"/>
<rect x="155.26" y="510.90" width="5.60" height="5.60" fill="#000"/>
<rect x="188.48" y="505.56" width="5.60" height="5.60" fill="#000"/>
<rect x="221.70" y="498.63" width="5.60" height="5.60" fill="#000"/>
<path d="M71.80,523.94L78.20,523.94L75.00,529.70Z" fill="#000"/>
<path d="M105.02,519.67L111.42,519.67L108.22,525.43Z" fill="#000"/>
<path d="M154.86,509.54L161.26,509.54L158.06,515.30Z" fill="#000"/>
<path d="M188.08,503.13L194.48,503.13L191.28,508.89Z" fill="#000"/>
<path d="M221.30,495.66L227.70,495.66L224.50,501.42Z" fill="#000"/>
<rect x="105.22" y="519.50" width="6.00" height="6.00" fill="#000"/>
<circle cx="75.00" cy="526.50" r="3.30" fill="#000"/>
<path d="M343.50,418.30V525.30" stroke="#444" stroke-width="1"/>
<path d="M343.50,525.30H346.30" stroke="#444" stroke-width="1"/>
<text transform="translate(330.92,530.37) scale(1.1500,1)" letter-spacing="0.428" font-size="10.80" font-weight="normal" stroke="#000" stroke-width="0.32" stroke-linejoin="round">0</text>
<path d="M343.50,503.90H346.30" stroke="#444" stroke-width="1"/>
<text transform="translate(330.80,508.92) scale(1.1500,1)" letter-spacing="0.428" font-size="10.80" font-weight="normal" stroke="#000" stroke-width="0.32" stroke-linejoin="round">4</text>
<path d="M343.50,482.50H346.30" stroke="#444" stroke-width="1"/>
<text transform="translate(330.97,487.57) scale(1.1500,1)" letter-spacing="0.428" font-size="10.80" font-weight="normal" stroke="#000" stroke-width="0.32" stroke-linejoin="round">8</text>
<path d="M343.50,461.10H346.30" stroke="#444" stroke-width="1"/>
<text transform="translate(323.66,466.17) scale(1.1500,1)" letter-spacing="0.428" font-size="10.80" font-weight="normal" stroke="#000" stroke-width="0.32" stroke-linejoin="round">12</text>
<path d="M343.50,439.70H346.30" stroke="#444" stroke-width="1"/>
<text transform="translate(323.58,444.77) scale(1.1500,1)" letter-spacing="0.428" font-size="10.80" font-weight="normal" stroke="#000" stroke-width="0.32" stroke-linejoin="round">16</text>
<path d="M343.50,418.30H346.30" stroke="#444" stroke-width="1"/>
<text transform="translate(323.52,423.37) scale(1.1500,1)" letter-spacing="0.428" font-size="10.80" font-weight="normal" stroke="#000" stroke-width="0.32" stroke-linejoin="round">20</text>
<path d="M343.10,525.30H493.50" stroke="#000" stroke-width="1.3"/>
<path d="M343.10,525.30V522.80" stroke="#000" stroke-width="1"/>
<text transform="translate(339.65,539.20) scale(1.1500,1)" font-size="10.80" font-weight="normal" stroke="#000" stroke-width="0.32" stroke-linejoin="round">0</text>
<path d="M359.81,525.30V522.80" stroke="#000" stroke-width="1"/>
<text transform="translate(356.19,539.20) scale(1.1500,1)" font-size="10.80" font-weight="normal" stroke="#000" stroke-width="0.32" stroke-linejoin="round">1</text>
<path d="M376.52,525.30V522.80" stroke="#000" stroke-width="1"/>
<text transform="translate(373.07,539.20) scale(1.1500,1)" font-size="10.80" font-weight="normal" stroke="#000" stroke-width="0.32" stroke-linejoin="round">2</text>
<path d="M393.23,525.30V522.80" stroke="#000" stroke-width="1"/>
<text transform="translate(389.82,539.20) scale(1.1500,1)" font-size="10.80" font-weight="normal" stroke="#000" stroke-width="0.32" stroke-linejoin="round">3</text>
<path d="M409.94,525.30V522.80" stroke="#000" stroke-width="1"/>
<text transform="translate(406.53,539.20) scale(1.1500,1)" font-size="10.80" font-weight="normal" stroke="#000" stroke-width="0.32" stroke-linejoin="round">4</text>
<path d="M426.66,525.30V522.80" stroke="#000" stroke-width="1"/>
<text transform="translate(423.21,539.20) scale(1.1500,1)" font-size="10.80" font-weight="normal" stroke="#000" stroke-width="0.32" stroke-linejoin="round">5</text>
<path d="M443.37,525.30V522.80" stroke="#000" stroke-width="1"/>
<text transform="translate(439.87,539.20) scale(1.1500,1)" font-size="10.80" font-weight="normal" stroke="#000" stroke-width="0.32" stroke-linejoin="round">6</text>
<path d="M460.08,525.30V522.80" stroke="#000" stroke-width="1"/>
<text transform="translate(456.62,539.20) scale(1.1500,1)" font-size="10.80" font-weight="normal" stroke="#000" stroke-width="0.32" stroke-linejoin="round">7</text>
<path d="M476.79,525.30V522.80" stroke="#000" stroke-width="1"/>
<text transform="translate(473.34,539.20) scale(1.1500,1)" font-size="10.80" font-weight="normal" stroke="#000" stroke-width="0.32" stroke-linejoin="round">8</text>
<path d="M493.50,525.30V522.80" stroke="#000" stroke-width="1"/>
<text transform="translate(490.05,539.20) scale(1.1500,1)" font-size="10.80" font-weight="normal" stroke="#000" stroke-width="0.32" stroke-linejoin="round">9</text>
<path d="M343.10,525.30L376.52,519.41L426.66,518.88L460.08,518.88L493.50,518.88" fill="none" stroke="#000" stroke-width="1.0"/>
<path d="M343.10,525.30L376.52,521.02L426.66,515.67L460.08,513.00L493.50,505.50" fill="none" stroke="#000" stroke-width="1.1" stroke-dasharray="4,2.5"/>
<path d="M343.10,525.30L376.52,521.02L426.66,515.13L460.08,511.92L493.50,504.43" fill="none" stroke="#000" stroke-width="1.1" stroke-dasharray="1,1.5"/>
<path d="M343.10,525.30L376.52,520.48L426.66,514.33L460.08,507.11L493.50,500.69" fill="none" stroke="#000" stroke-width="1.1" stroke-dasharray="4,2.5"/>
<path d="M343.10,525.30L376.52,519.95L426.66,489.99L460.08,471.80L493.50,444.51" fill="none" stroke="#000" stroke-width="1.1" stroke-dasharray="11,1.5,1.2,1.5"/>
<path d="M343.10,525.30L376.52,519.95L426.66,497.21L460.08,479.82L493.50,457.89" fill="none" stroke="#000" stroke-width="1.1" stroke-dasharray="7,2,1.5,2"/>
<path d="M343.10,522.30V528.30M340.10,525.30H346.10" stroke="#000" stroke-width="0.9"/>
<path d="M376.52,516.41V522.41M373.52,519.41H379.52" stroke="#000" stroke-width="0.9"/>
<path d="M426.66,515.88V521.88M423.66,518.88H429.66" stroke="#000" stroke-width="0.9"/>
<path d="M460.08,515.88V521.88M457.08,518.88H463.08" stroke="#000" stroke-width="0.9"/>
<path d="M493.50,515.88V521.88M490.50,518.88H496.50" stroke="#000" stroke-width="0.9"/>
<circle cx="343.10" cy="525.30" r="2.70" fill="#fff" stroke="#000" stroke-width="1"/>
<circle cx="376.52" cy="521.02" r="2.70" fill="#fff" stroke="#000" stroke-width="1"/>
<circle cx="426.66" cy="515.67" r="2.70" fill="#fff" stroke="#000" stroke-width="1"/>
<circle cx="460.08" cy="513.00" r="2.70" fill="#fff" stroke="#000" stroke-width="1"/>
<circle cx="493.50" cy="505.50" r="2.70" fill="#fff" stroke="#000" stroke-width="1"/>
<path d="M339.70,528.02L346.50,528.02L343.10,521.90Z" fill="#fff" stroke="#000" stroke-width="1"/>
<path d="M373.12,523.74L379.92,523.74L376.52,517.62Z" fill="#fff" stroke="#000" stroke-width="1"/>
<path d="M423.26,517.86L430.06,517.86L426.66,511.74Z" fill="#fff" stroke="#000" stroke-width="1"/>
<path d="M456.68,514.64L463.48,514.64L460.08,508.52Z" fill="#fff" stroke="#000" stroke-width="1"/>
<path d="M490.10,507.15L496.90,507.15L493.50,501.03Z" fill="#fff" stroke="#000" stroke-width="1"/>
<circle cx="343.10" cy="525.30" r="3.20" fill="#000"/>
<circle cx="376.52" cy="520.48" r="3.20" fill="#000"/>
<circle cx="426.66" cy="514.33" r="3.20" fill="#000"/>
<circle cx="460.08" cy="507.11" r="3.20" fill="#000"/>
<circle cx="493.50" cy="500.69" r="3.20" fill="#000"/>
<path d="M339.70,528.02L346.50,528.02L343.10,521.90Z" fill="#000"/>
<path d="M373.12,522.67L379.92,522.67L376.52,516.55Z" fill="#000"/>
<path d="M423.26,492.71L430.06,492.71L426.66,486.59Z" fill="#000"/>
<path d="M456.68,474.52L463.48,474.52L460.08,468.40Z" fill="#000"/>
<path d="M490.10,447.24L496.90,447.24L493.50,441.12Z" fill="#000"/>
<path d="M339.70,525.30H346.50M343.10,521.90V528.70" stroke="#000" stroke-width="2"/>
<path d="M373.12,519.95H379.92M376.52,516.55V523.35" stroke="#000" stroke-width="2"/>
<path d="M423.26,497.21H430.06M426.66,493.81V500.61" stroke="#000" stroke-width="2"/>
<path d="M456.68,479.82H463.48M460.08,476.43V483.22" stroke="#000" stroke-width="2"/>
<path d="M490.10,457.89H496.90M493.50,454.49V461.29" stroke="#000" stroke-width="2"/>
<path d="M87.90,594.30H122.50" stroke="#000" stroke-width="1.0"/>
<path d="M105,590.6V597.7" stroke="#000" stroke-width="1"/>
<rect x="131.2" y="594.6" width="6.1" height="1.2" fill="#000"/>
<text transform="translate(141.67,599.90) scale(1.2000,1)" letter-spacing="-0.011" font-size="11.20" font-weight="normal" stroke="#000" stroke-width="0.35" stroke-linejoin="round">BT</text>
<path d="M87.90,626.70H91.80" stroke="#333" stroke-width="1.2"/>
<path d="M94.80,626.70H99.00" stroke="#333" stroke-width="1.2"/>
<path d="M111.00,626.70H114.70" stroke="#333" stroke-width="1.2"/>
<path d="M118.20,626.70H122.10" stroke="#333" stroke-width="1.2"/>
<circle cx="105" cy="626.7" r="6.05" fill="#000"/>
<text transform="translate(133.20,632.20) scale(1.2000,1)" letter-spacing="0.093" font-size="11.20" font-weight="normal" stroke="#000" stroke-width="0.35" stroke-linejoin="round">con</text>
<path d="M87.90,659.30H95.20" stroke="#000" stroke-width="1.2"/>
<path d="M102.60,659.30H110.40" stroke="#000" stroke-width="1.1"/>
<path d="M118.20,659.30H122.10" stroke="#000" stroke-width="1.2"/>
<path d="M99.2,653.1H110.5L104.8,664.6Z" fill="none" stroke="#000" stroke-width="1.1" stroke-linejoin="miter"/>
<path d="M99.2,653.1H110.5" stroke="#000" stroke-width="1.6"/>
<text transform="translate(132.67,664.70) scale(1.2000,1)" letter-spacing="0.491" font-size="11.20" font-weight="normal" stroke="#000" stroke-width="0.35" stroke-linejoin="round">E2</text>
<path d="M87.60,691.40H121.60" stroke="#000" stroke-width="1.2"/>
<path d="M98.3,685.4H110.8L104.5,697.7Z" fill="#000"/>
<text transform="translate(133.57,697.10) scale(1.2000,1)" letter-spacing="-0.003" font-size="11.20" font-weight="normal" stroke="#000" stroke-width="0.35" stroke-linejoin="round">test</text>
<path d="M180.20,594.20H191.50" stroke="#000" stroke-width="1.3"/>
<path d="M203.00,594.20H207.40" stroke="#333" stroke-width="1.2"/>
<path d="M210.50,594.20H214.80" stroke="#333" stroke-width="1.2"/>
<path d="M197.2,588.4L203.1,594.2L197.2,600.1L191.3,594.2Z" fill="#000"/>
<text transform="translate(225.51,600.40) scale(1.2000,1)" letter-spacing="-0.116" font-size="11.20" font-weight="normal" stroke="#000" stroke-width="0.35" stroke-linejoin="round">prog</text>
<path d="M180.60,626.70H191.00" stroke="#000" stroke-width="1.2"/>
<path d="M194.90,626.70H201.00" stroke="#333" stroke-width="1.1"/>
<path d="M203.00,626.70H207.40" stroke="#333" stroke-width="1.2"/>
<path d="M210.50,626.70H213.90" stroke="#333" stroke-width="1.2"/>
<rect x="191.45" y="620.85" width="11" height="11.1" fill="none" stroke="#000" stroke-width="1.3"/>
<text transform="translate(225.31,632.20) scale(1.2000,1)" letter-spacing="-0.379" font-size="11.20" font-weight="normal" stroke="#000" stroke-width="0.35" stroke-linejoin="round">dex</text>
<path d="M179.80,659.00H213.90" stroke="#222" stroke-width="1.3"/>
<path d="M197.1,653.4L202.5,659L197.1,664.7L191.7,659Z" fill="none" stroke="#000" stroke-width="1.1"/>
<text transform="translate(224.90,665.10) scale(1.2000,1)" letter-spacing="-0.030" font-size="11.20" font-weight="normal" stroke="#000" stroke-width="0.35" stroke-linejoin="round">2-ME</text>
<path d="M339.80,593.10H373.40" stroke="#000" stroke-width="1.0"/>
<path d="M356.6,589.5V596.8" stroke="#000" stroke-width="1"/>
<rect x="380.3" y="593.4" width="6.6" height="1.2" fill="#000"/>
<text transform="translate(392.87,598.20) scale(1.2000,1)" letter-spacing="-0.428" font-size="11.20" font-weight="normal" stroke="#000" stroke-width="0.35" stroke-linejoin="round">BT</text>
<path d="M339.30,626.10H343.70" stroke="#333" stroke-width="1.2"/>
<path d="M347.50,626.10H351.50" stroke="#333" stroke-width="1.2"/>
<path d="M362.60,626.10H366.10" stroke="#333" stroke-width="1.2"/>
<path d="M369.60,626.10H374.40" stroke="#333" stroke-width="1.2"/>
<circle cx="357" cy="626" r="5.95" fill="#000"/>
<text transform="translate(384.80,631.40) scale(1.2000,1)" letter-spacing="0.052" font-size="11.20" font-weight="normal" stroke="#000" stroke-width="0.35" stroke-linejoin="round">con</text>
<path d="M339.80,658.30H345.00" stroke="#333" stroke-width="1.1"/>
<path d="M347.50,658.30H351.00" stroke="#333" stroke-width="1.1"/>
<path d="M354.90,658.30H361.00" stroke="#333" stroke-width="1.1"/>
<path d="M363.50,658.30H367.00" stroke="#333" stroke-width="1.1"/>
<path d="M370.50,658.30H374.40" stroke="#333" stroke-width="1.1"/>
<circle cx="356.9" cy="658.4" r="5.6" fill="none" stroke="#000" stroke-width="1.1"/>
<text transform="translate(384.57,663.20) scale(1.2000,1)" letter-spacing="-0.198" font-size="11.20" font-weight="normal" stroke="#000" stroke-width="0.35" stroke-linejoin="round">D3</text>
<path d="M420.6,593.8H432.5M444.3,593.8H453.5" stroke="#777" stroke-width="1" stroke-dasharray="1,1.6"/>
<path d="M432.6,599.2H444.1L438.3,588.6Z" fill="#fff" stroke="#000" stroke-width="1.1"/>
<path d="M432.6,599.3H444.1" stroke="#000" stroke-width="1.5"/>
<text transform="translate(466.97,599.20) scale(1.2000,1)" letter-spacing="-0.868" font-size="11.20" font-weight="normal" stroke="#000" stroke-width="0.35" stroke-linejoin="round">T3</text>
<path d="M421.30,626.30H433.00" stroke="#000" stroke-width="1.2"/>
<path d="M444,626.3H455.6" stroke="#333" stroke-width="1.1" stroke-dasharray="3,1.2,1,1.2"/>
<path d="M432.3,632.3H444.4L438.3,620Z" fill="#000"/>
<text transform="translate(466.70,631.50) scale(1.2000,1)" letter-spacing="-0.085" font-size="11.20" font-weight="normal" stroke="#000" stroke-width="0.35" stroke-linejoin="round">at-RA</text>
<path d="M421.30,658.40H455.90" stroke="#000" stroke-width="1.1"/>
<path d="M433.3,658.4H443.3M438.3,653.4V663.4" stroke="#000" stroke-width="2.7" stroke-linecap="round"/>
<text transform="translate(466.65,663.80) scale(1.2000,1)" letter-spacing="0.170" font-size="11.20" font-weight="normal" stroke="#000" stroke-width="0.35" stroke-linejoin="round">9-cis RA</text>
</svg></body></html>
